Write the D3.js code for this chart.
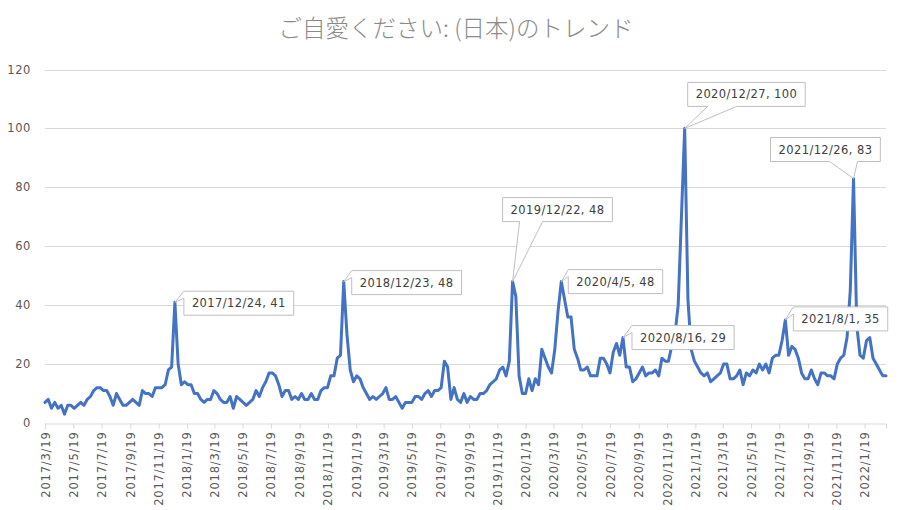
<!DOCTYPE html>
<html>
<head>
<meta charset="utf-8">
<script src="https://cdn.jsdelivr.net/npm/d3@7/dist/d3.min.js"></script>
<style>
  html, body { margin: 0; padding: 0; background: #fff; }
  svg { display: block; }
</style>
</head>
<body>
<script>
(function(d3) {

  // Weekly interest, Sundays from 2017/3/19 to 2022/3/6
  var startDate = new Date(2017, 2, 19);
  var values = [
    7, 8, 5, 7, 5, 6, 3, 6, 6, 5,
    6, 7, 6, 8, 9, 11, 12, 12, 11, 11,
    9, 6, 10, 8, 6, 6, 7, 8, 7, 6,
    11, 10, 10, 9, 12, 12, 12, 13, 18, 19,
    41, 20, 13, 14, 13, 13, 10, 10, 8, 7,
    8, 8, 11, 10, 8, 7, 7, 9, 5, 9,
    8, 7, 6, 7, 8, 11, 9, 12, 14, 17,
    17, 16, 13, 9, 11, 11, 8, 9, 8, 10,
    8, 8, 10, 8, 8, 11, 12, 12, 16, 16,
    22, 23, 48, 30, 18, 14, 16, 15, 12, 10,
    8, 9, 8, 9, 10, 12, 8, 8, 9, 7,
    5, 7, 7, 7, 9, 9, 8, 10, 11, 9,
    11, 11, 12, 21, 19, 8, 12, 8, 7, 10,
    7, 9, 8, 8, 10, 10, 11, 13, 14, 15,
    18, 19, 16, 21, 48, 43, 16, 10, 10, 15,
    11, 15, 13, 25, 22, 19, 17, 25, 38, 48,
    42, 36, 36, 25, 22, 18, 18, 19, 16, 16,
    16, 22, 22, 20, 17, 24, 27, 23, 29, 19,
    19, 14, 15, 17, 19, 16, 17, 17, 18, 16,
    22, 21, 21, 26, 30, 40, 70, 100, 42, 25,
    21, 19, 17, 16, 17, 14, 15, 16, 17, 20,
    20, 15, 15, 16, 18, 13, 17, 16, 18, 17,
    20, 18, 20, 17, 22, 23, 23, 28, 35, 23,
    26, 25, 22, 17, 15, 15, 18, 15, 13, 17,
    17, 16, 16, 15, 20, 22, 23, 29, 45, 83,
    33, 23, 22, 28, 29, 22, 20, 18, 16, 16
  ];

  var xTickLabels = [
    "2017/3/19", "2017/5/19", "2017/7/19", "2017/9/19", "2017/11/19",
    "2018/1/19", "2018/3/19", "2018/5/19", "2018/7/19", "2018/9/19", "2018/11/19",
    "2019/1/19", "2019/3/19", "2019/5/19", "2019/7/19", "2019/9/19", "2019/11/19",
    "2020/1/19", "2020/3/19", "2020/5/19", "2020/7/19", "2020/9/19", "2020/11/19",
    "2021/1/19", "2021/3/19", "2021/5/19", "2021/7/19", "2021/9/19", "2021/11/19",
    "2022/1/19"
  ];
  var yTicks = [0, 20, 40, 60, 80, 100, 120];

  // Labelled points; dx/dy place the callout box relative to its point,
  // base gives the wedge attachment on the box's bottom edge
  var callouts = [
    { date: "2017/12/24", side: "left", dx: 9, dy: -11 },
    { date: "2018/12/23", side: "left", dx: 8, dy: -11 },
    { date: "2019/12/22", side: "bottom", dx: -10, dy: -84, base: [17, 40] },
    { date: "2020/4/5", side: "left", dx: 7, dy: -12 },
    { date: "2020/8/16", side: "left", dx: 9, dy: -12 },
    { date: "2020/12/27", side: "bottom", dx: 3, dy: -46, base: [20, 49] },
    { date: "2021/8/1", side: "left", dx: 8, dy: -13 },
    { date: "2021/12/26", side: "bottom", dx: -83, dy: -41, base: [59, 87] }
  ];

  var width = 903, height = 510;
  var parseDate = d3.timeParse("%Y/%m/%d");
  var fmt = function(d) {
    return d.getFullYear() + "/" + (d.getMonth() + 1) + "/" + d.getDate();
  };

  var data = values.map(function(v, i) {
    return { date: d3.timeDay.offset(startDate, i * 7), value: v };
  });

  var svg = d3.select("body").append("svg")
    .attr("width", width)
    .attr("height", height);

  var x = d3.scaleTime()
    .domain([data[0].date, data[data.length - 1].date])
    .range([45, 886]);

  var y = d3.scaleLinear()
    .domain([0, 120])
    .range([423, 69.5]);

  var labelFont = "'DejaVu Sans', sans-serif";

  // Title
  svg.append("text")
    .attr("x", 456)
    .attr("y", 37)
    .attr("text-anchor", "middle")
    .attr("font-family", "'Noto Sans CJK JP', sans-serif")
    .attr("font-weight", 300)
    .attr("font-size", 23.5)
    .attr("fill", "#8a8a8a")
    .text("ご自愛ください: (日本)のトレンド");

  // Horizontal gridlines
  svg.append("g")
    .selectAll("line")
    .data(yTicks.filter(function(t) { return t > 0; }))
    .enter().append("line")
    .attr("x1", x.range()[0])
    .attr("x2", x.range()[1])
    .attr("y1", function(d) { return Math.round(y(d)) + 0.5; })
    .attr("y2", function(d) { return Math.round(y(d)) + 0.5; })
    .attr("stroke", "#d9d9d9")
    .attr("stroke-width", 1);

  // Y axis labels
  svg.append("g")
    .selectAll("text")
    .data(yTicks)
    .enter().append("text")
    .attr("x", 31)
    .attr("y", function(d) { return y(d); })
    .attr("dy", "0.35em")
    .attr("text-anchor", "end")
    .attr("font-family", labelFont)
    .attr("font-size", 11.5)
    .attr("letter-spacing", 0.6)
    .attr("fill", "#595959")
    .text(function(d) { return d; });

  // X axis
  var xTickDates = xTickLabels.map(parseDate);
  var xAxis = d3.axisBottom(x)
    .tickValues(xTickDates)
    .tickSize(5)
    .tickFormat(function(d, i) { return xTickLabels[i]; });

  var gx = svg.append("g")
    .attr("transform", "translate(0," + (Math.round(y(0)) + 0.5) + ")")
    .call(xAxis);
  gx.select(".domain").attr("stroke", "#d9d9d9");
  gx.selectAll(".tick line").attr("stroke", "#d9d9d9");
  gx.selectAll(".tick text")
    .attr("font-family", labelFont)
    .attr("font-size", 11.5)
    .attr("letter-spacing", 0.8)
    .attr("fill", "#595959")
    .attr("text-anchor", "end")
    .attr("transform", "rotate(-90)")
    .attr("x", -8)
    .attr("y", 0)
    .attr("dy", "0.35em");

  // The series
  var line = d3.line()
    .x(function(d) { return x(d.date); })
    .y(function(d) { return y(d.value); });

  svg.append("path")
    .datum(data)
    .attr("d", line)
    .attr("fill", "none")
    .attr("stroke", "#4472C4")
    .attr("stroke-width", 3)
    .attr("stroke-linejoin", "round")
    .attr("stroke-linecap", "round");

  // Callouts
  var gc = svg.append("g");
  callouts.forEach(function(c) {
    var date = parseDate(c.date);
    var point = data.find(function(d) { return +d.date === +date; });
    var px = x(point.date), py = y(point.value);
    var label = fmt(point.date) + ", " + point.value;

    var g = gc.append("g");
    var path = g.append("path");
    var text = g.append("text")
      .attr("font-family", labelFont)
      .attr("font-size", 11.5)
      .attr("letter-spacing", 0.4)
      .attr("fill", "#404040")
      .text(label);

    var tw = text.node().getComputedTextLength();
    var bw = tw + 16, bh = 24;
    var bx = px + c.dx, by = py + c.dy;

    text.attr("x", bx + bw / 2)
      .attr("y", by + bh / 2)
      .attr("dy", "0.35em")
      .attr("text-anchor", "middle");

    var pts;
    if (c.side === "left") {
      pts = [[bx, by], [bx + bw, by], [bx + bw, by + bh], [bx, by + bh],
             [bx, by + 7], [px, py], [bx, by]];
    } else {
      pts = [[bx, by], [bx + bw, by], [bx + bw, by + bh],
             [bx + c.base[1], by + bh], [px, py], [bx + c.base[0], by + bh],
             [bx, by + bh], [bx, by]];
    }
    path.attr("d", d3.line()(pts) + "Z")
      .attr("fill", "#fff")
      .attr("stroke", "#bfbfbf")
      .attr("stroke-width", 1);
  });

})(d3);
</script>
</body>
</html>
